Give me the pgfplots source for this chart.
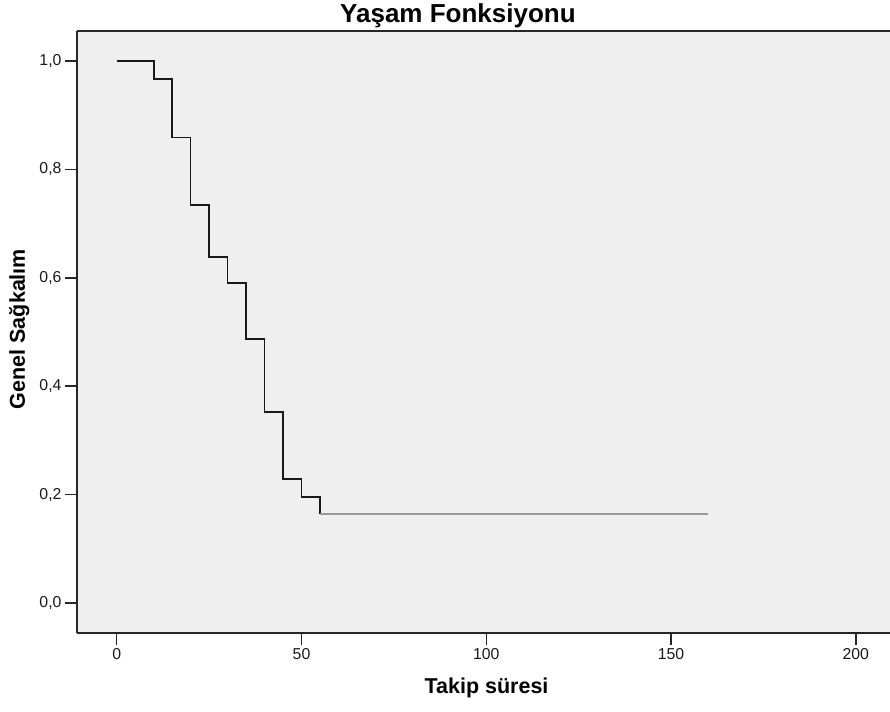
\documentclass[border=0pt]{standalone}
\usepackage{fontspec}
\setmainfont{Liberation Sans}
\usepackage{pgfplots}
\pgfplotsset{compat=1.18}
\definecolor{bg}{RGB}{239,239,239}
\begin{document}
\begin{tikzpicture}
\begin{axis}[
  scale only axis, width=813pt, height=602pt,
  xmin=-10.75, xmax=209.25, ymin=-0.0553, ymax=1.0553,
  axis x line*=box, axis y line*=left,
  axis line style={line width=1.8pt, black!85},
  axis background/.style={fill=bg},
  xtick={0,50,100,150,200}, ytick={0,0.2,0.4,0.6,0.8,1.0},
  tick align=outside, major tick length=12pt,
  tick style={line width=1.5pt, black!85},
  xtick pos=bottom, ytick pos=left,
  /pgf/number format/assume math mode=true,
  yticklabel style={/pgf/number format/.cd, fixed, fixed zerofill, precision=1, use comma},
  xticklabel style={/pgf/number format/.cd, fixed, precision=0},
  ticklabel style={font=\fontsize{15.8}{18}\selectfont, text=black!90},
  title={Yaşam Fonksiyonu},
  title style={font=\bfseries\fontsize{26}{30}\selectfont, at={(axis description cs:0.4686,1.004)}, anchor=base},
  xlabel={Takip süresi},
  xlabel style={font=\bfseries\fontsize{21.5}{24}\selectfont, at={(axis description cs:0.5037,-0.1013)}, anchor=base},
  ylabel={Genel Sağkalım},
  ylabel style={font=\bfseries\fontsize{21.5}{24}\selectfont, at={(axis description cs:-0.064,0.505)}, anchor=base, rotate=0},
]
\addplot[const plot, black!90, line width=1.7pt] coordinates {(0,1) (10,0.967) (15,0.859) (20,0.734) (25,0.638) (30,0.590) (35,0.487) (40,0.352) (45,0.229) (50,0.196) (55,0.164)};
\addplot[gray!80, line width=2.2pt] coordinates {(55,0.164) (160,0.164)};
\end{axis}
\pgfresetboundingbox
\path (-77pt,-78pt) rectangle (813pt,633pt);
\end{tikzpicture}
\end{document}
